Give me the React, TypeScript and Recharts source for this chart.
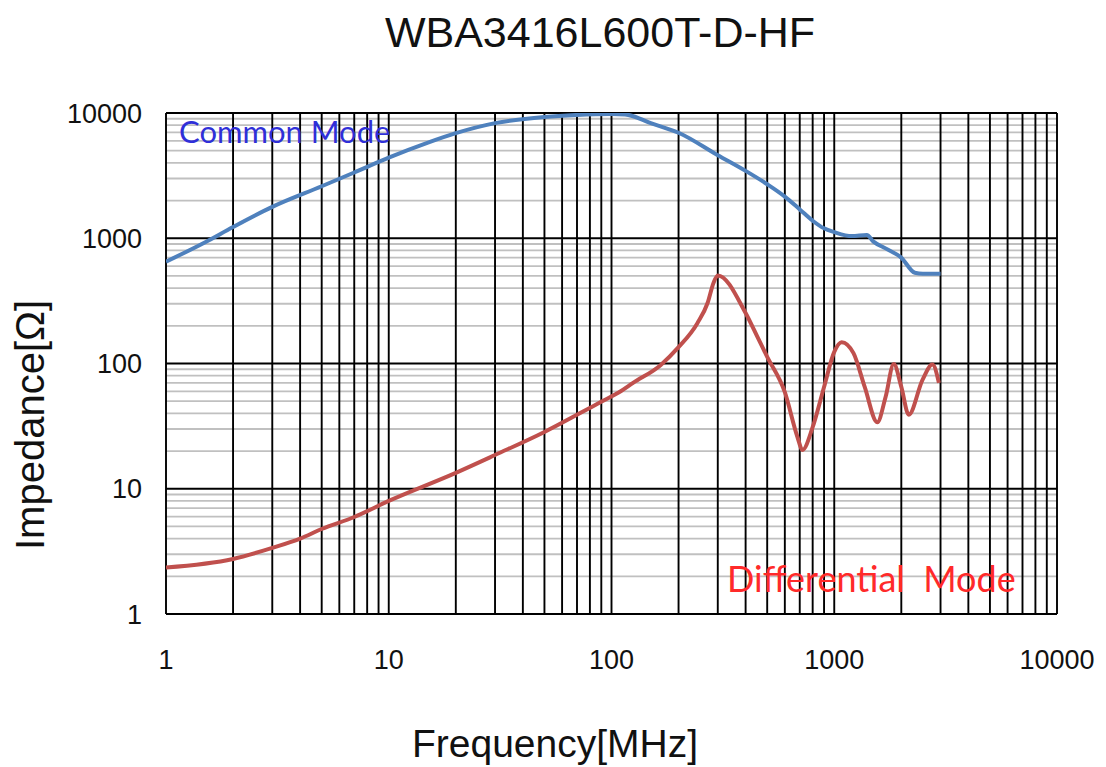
import { Line, LineChart, ReferenceLine, XAxis, YAxis } from 'recharts';

const TITLE = 'WBA3416L600T-D-HF';
const X_LABEL = 'Frequency[MHz]';
const Y_LABEL = 'Impedance[Ω]';

const X_TICKS = [1, 10, 100, 1000, 10000];
const Y_TICKS = [1, 10, 100, 1000, 10000];
const DECADES = [1, 10, 100, 1000];
const MINOR_STEPS = [2, 3, 4, 5, 6, 7, 8, 9];

// Common mode impedance (Ω) vs frequency (MHz)
const commonFreq = [1, 1.5, 2, 3, 5, 7, 10, 15, 20, 30, 50, 70, 100, 115, 150, 200, 300, 400, 500, 600, 700, 800, 900, 1000, 1200, 1400, 1500, 1700, 2000, 2300, 2500, 3000];
const commonZ = [650, 930, 1230, 1780, 2600, 3350, 4400, 5800, 6900, 8300, 9300, 9650, 9800, 9750, 8300, 6950, 4600, 3450, 2700, 2150, 1700, 1380, 1200, 1120, 1040, 1060, 940, 830, 700, 530, 520, 520];

// Differential mode impedance (Ω)
const diffFreq = [1, 2, 3, 4, 5, 7, 10, 20, 30, 50, 72, 89, 110, 125, 166, 200, 243, 270, 287, 300, 400, 452, 500, 600, 683, 720, 800, 900, 1000, 1080, 1220, 1370, 1560, 1700, 1850, 2000, 2160, 2490, 2760, 2950];
const diffZ = [2.35, 2.75, 3.37, 4.0, 4.77, 5.95, 8.0, 13.4, 18.6, 28.4, 40, 49, 60, 70, 97, 135, 210, 304, 440, 505, 253, 163, 113, 59, 26, 20.4, 31, 65, 124, 148, 121, 65, 34, 54, 99, 65, 39, 74, 98, 70];

const commonData = commonFreq.map((f, i) => ({ f, z: commonZ[i] }));
const diffData = diffFreq.map((f, i) => ({ f, z: diffZ[i] }));

const minorValues = DECADES.flatMap((d) => MINOR_STEPS.map((m) => m * d));

const FONT = '"Liberation Sans", Arial, sans-serif';
const NOTE_FONT = 'Lato, "Open Sans", sans-serif';

export default function App() {
  return (
    <div style={{ position: 'absolute', left: 0, top: 0, width: 1106, height: 767, background: '#fff' }}>
      <LineChart width={1106} height={767} margin={{ top: 113, right: 49, bottom: 93, left: 86 }}>
        <XAxis
          dataKey="f"
          type="number"
          scale="log"
          domain={[1, 10000]}
          ticks={X_TICKS}
          interval={0}
          allowDataOverflow
          axisLine={false}
          tickLine={false}
          tickSize={0}
          tickMargin={36}
          height={60}
          tick={{ fontSize: 27, fill: '#111', fontFamily: FONT }}
        />
        <YAxis
          type="number"
          scale="log"
          domain={[1, 10000]}
          ticks={Y_TICKS}
          interval={0}
          allowDataOverflow
          axisLine={false}
          tickLine={false}
          tickSize={0}
          tickMargin={24}
          width={80}
          tick={{ fontSize: 27, fill: '#111', fontFamily: FONT }}
        />
        {minorValues.map((v) => (
          <ReferenceLine key={`hm${v}`} y={v} stroke="#c0c0c0" strokeWidth={1.8} />
        ))}
        {[...minorValues, ...X_TICKS].map((v) => (
          <ReferenceLine key={`vx${v}`} x={v} stroke="#000" strokeWidth={1.9} />
        ))}
        {Y_TICKS.map((v) => (
          <ReferenceLine key={`hy${v}`} y={v} stroke="#000" strokeWidth={2} />
        ))}
        <Line
          data={diffData}
          dataKey="z"
          type="monotone"
          stroke="#c0504d"
          strokeWidth={4}
          dot={false}
          isAnimationActive={false}
        />
        <Line
          data={commonData}
          dataKey="z"
          type="monotone"
          stroke="#4f81bd"
          strokeWidth={4}
          dot={false}
          isAnimationActive={false}
        />
      </LineChart>
      <svg
        width={1106}
        height={767}
        style={{ position: 'absolute', left: 0, top: 0, pointerEvents: 'none' }}
      >
        <text x={600} y={47} textAnchor="middle" fontSize={43} fontFamily={FONT} fill="#111">
          {TITLE}
        </text>
        <text x={555} y={757} textAnchor="middle" fontSize={39} fontFamily={FONT} fill="#111">
          {X_LABEL}
        </text>
        <text
          x={0}
          y={0}
          transform="translate(44 425) rotate(-90)"
          textAnchor="middle"
          fontSize={40}
          fontFamily={FONT}
          fill="#111"
        >
          {Y_LABEL}
        </text>
        <text x={179} y={143} fontSize={31} fontFamily={NOTE_FONT} fill="#2f2fd8">
          Common Mode
        </text>
        <text x={727} y={592} fontSize={36} fontFamily={NOTE_FONT} fill="#ff2a2a" style={{ whiteSpace: 'pre' }}>
          {'Differential  Mode'}
        </text>
      </svg>
    </div>
  );
}
